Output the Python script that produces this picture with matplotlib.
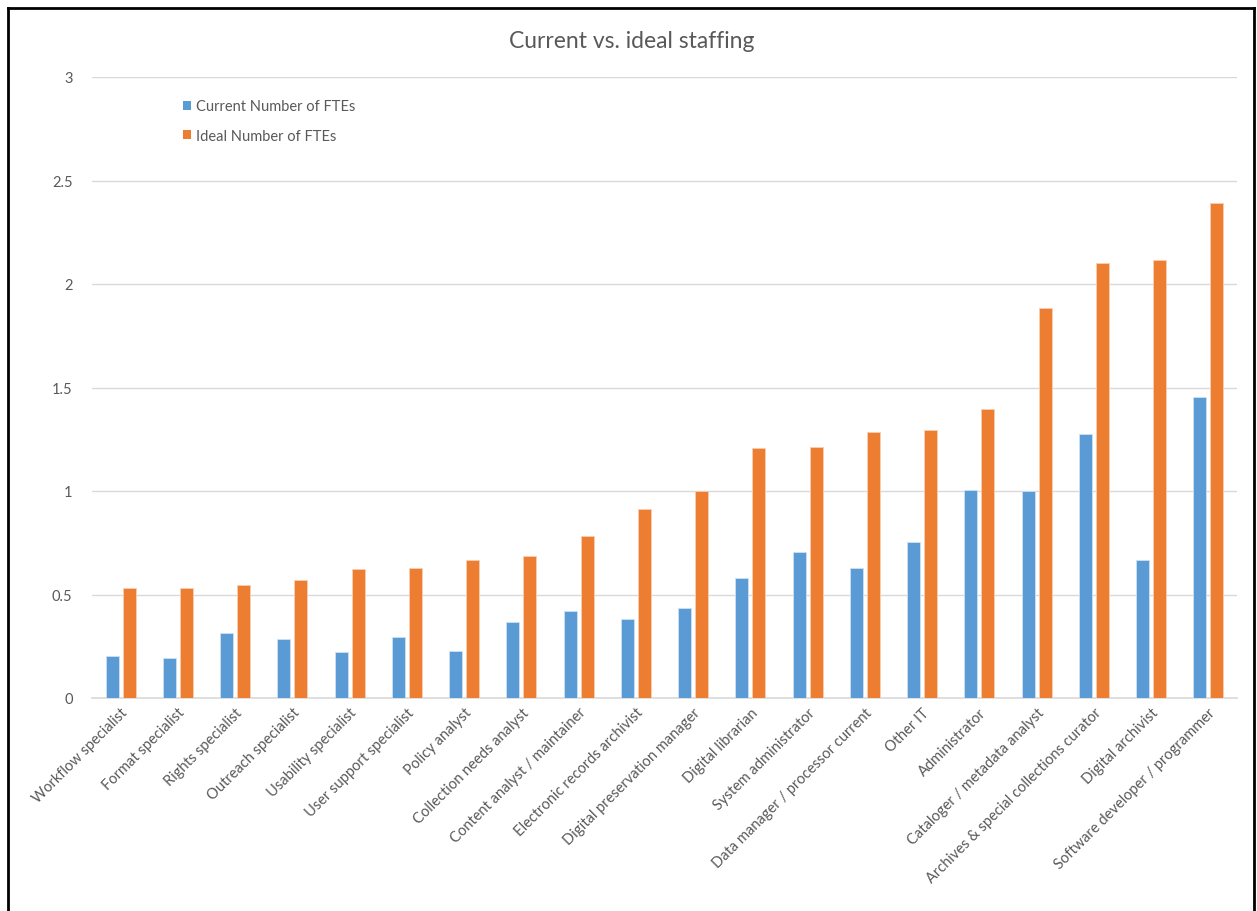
import matplotlib
matplotlib.use("Agg")
import matplotlib.pyplot as plt
from matplotlib.lines import Line2D
from matplotlib.patches import Patch
import numpy as np

categories = [
    "Workflow specialist", "Format specialist", "Rights specialist",
    "Outreach specialist", "Usability specialist", "User support specialist",
    "Policy analyst", "Collection needs analyst", "Content analyst / maintainer",
    "Electronic records archivist", "Digital preservation manager",
    "Digital librarian", "System administrator",
    "Data manager / processor current", "Other IT", "Administrator",
    "Cataloger / metadata analyst", "Archives & special collections curator",
    "Digital archivist", "Software developer / programmer",
]
current_fte = [0.202, 0.194, 0.312, 0.287, 0.221, 0.293, 0.227, 0.367, 0.418,
               0.384, 0.437, 0.582, 0.703, 0.630, 0.752, 1.004, 0.999, 1.277,
               0.667, 1.456]
ideal_fte = [0.530, 0.530, 0.545, 0.570, 0.623, 0.630, 0.668, 0.684, 0.783,
             0.915, 1.002, 1.206, 1.214, 1.287, 1.295, 1.397, 1.882, 2.100,
             2.114, 2.393]
series_names = ["Current Number of FTEs", "Ideal Number of FTEs"]
yticks = [0, 0.5, 1, 1.5, 2, 2.5, 3]
ytick_labels = ["0", "0.5", "1", "1.5", "2", "2.5", "3"]

BLUE = "#5B9BD5"
ORANGE = "#ED7D31"
GRAY_TXT = "#595959"
GRID = "#D9D9D9"

plt.rcParams['font.family'] = ['Lato', 'DejaVu Sans']

fig = plt.figure(figsize=(12.57, 9.12), dpi=100)
ax = fig.add_axes([92/1257, 1 - 699/912, (1237-92)/1257, (699-78)/912])

x = np.arange(len(categories))
w = 0.228
off = 0.148
ax.bar(x - off, current_fte, width=w, color=BLUE, edgecolor="#cfe1f2", linewidth=0.6, zorder=3)
ax.bar(x + off, ideal_fte, width=w, color=ORANGE, edgecolor="#f8cfb3", linewidth=0.6, zorder=3)

ax.set_xlim(-0.5, len(categories) - 0.5)
ax.set_ylim(0, 3)
ax.set_yticks(yticks)
ax.set_yticklabels(ytick_labels)
ax.yaxis.grid(True, color=GRID, linewidth=1.0, zorder=0)
ax.set_axisbelow(True)
for s in ["top", "right", "left"]:
    ax.spines[s].set_visible(False)
ax.spines["bottom"].set_color(GRID)
ax.spines["bottom"].set_linewidth(1.2)
ax.tick_params(axis="y", length=0, pad=14, labelsize=10.5, labelcolor=GRAY_TXT)
ax.tick_params(axis="x", length=0, pad=5, labelsize=10.5, labelcolor=GRAY_TXT)
ax.set_xticks(x)
ax.set_xticklabels(categories, rotation=45, ha="right", va="top", rotation_mode="anchor")

fig.text(632/1257, 1 - 42/912, "Current vs. ideal staffing", ha="center", va="center",
         fontsize=16.5, color=GRAY_TXT)

handles = [Patch(facecolor=BLUE, edgecolor="none"), Patch(facecolor=ORANGE, edgecolor="none")]
leg = ax.legend(handles, series_names, loc="upper left", bbox_to_anchor=(0.068, 0.985),
                frameon=False, fontsize=10.5, handlelength=0.55, handleheight=0.55,
                handletextpad=0.35, labelspacing=1.05, labelcolor=GRAY_TXT)

# outer frame
for xs, ys in [([8/1257, 8/1257], [0, 1 - 9/912]),
               ([8/1257, 1254/1257], [1 - 9/912, 1 - 9/912]),
               ([1254/1257, 1254/1257], [0, 1 - 9/912])]:
    fig.add_artist(Line2D(xs, ys, transform=fig.transFigure, color="black", linewidth=2))

fig.savefig("out.png", dpi=100, facecolor="white")
